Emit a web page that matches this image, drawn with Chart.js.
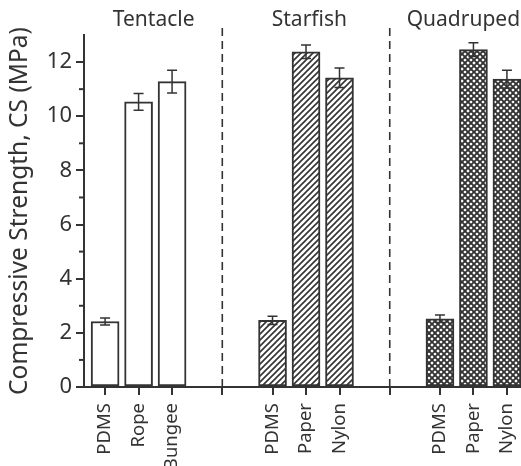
<!DOCTYPE html>
<html>
<head>
<meta charset="utf-8">
<title>Compressive Strength</title>
<script src="https://cdn.jsdelivr.net/npm/chart.js"></script>
<style>
body{margin:0;background:#fff}
</style>
</head>
<body>
<canvas id="csChart" width="521" height="466"></canvas>
<script>
// values
const groups=['Tentacle','Starfish','Quadruped'];
const tentacleLabels=['PDMS','Rope','Bungee'];
const starfishLabels=['PDMS','Paper','Nylon'];
const quadrupedLabels=['PDMS','Paper','Nylon'];
const tentacleCS=[2.42,10.53,11.28];
const tentacleErr=[0.13,0.31,0.42];
const starfishCS=[2.46,12.38,11.42];
const starfishErr=[0.15,0.25,0.36];
const quadrupedCS=[2.52,12.46,11.37];
const quadrupedErr=[0.14,0.25,0.33];
const tentacleX=[0,1,2];
const starfishX=[5,6,7];
const quadrupedX=[10,11,12];
const separatorX=[3.5,8.5];
const yTicks=[0,1,2,3,4,5,6,7,8,9,10,11,12];

const ink='#333';
const font='"Noto Sans", sans-serif';

function hatch(kind){
    const c=document.createElement('canvas');
    c.width=6;c.height=6;
    const g=c.getContext('2d');
    g.fillStyle='#fff';g.fillRect(0,0,6,6);
    g.strokeStyle=ink;g.lineWidth=kind==='cross'?1.9:1.6;
    g.beginPath();
    g.moveTo(-1,7);g.lineTo(7,-1);
    g.moveTo(-4,4);g.lineTo(4,-4);
    g.moveTo(2,10);g.lineTo(10,2);
    if(kind==='cross'){
        g.moveTo(-1,-1);g.lineTo(7,7);
        g.moveTo(-4,2);g.lineTo(4,10);
        g.moveTo(2,-4);g.lineTo(10,4);
    }
    g.stroke();
    return g.createPattern(c,'repeat');
}

const pts=(xs,ys)=>xs.map((x,i)=>({x:x,y:ys[i]}));
const xTicks=[...tentacleX,separatorX[0],...starfishX,separatorX[1],...quadrupedX];
const xTickLabels=[...tentacleLabels,'',...starfishLabels,'',...quadrupedLabels];

const barBase={type:'bar',grouped:false,barThickness:28,borderColor:ink,borderWidth:2,borderSkipped:false};
const sepBase={type:'line',borderColor:ink,borderWidth:1.6,borderDash:[8,5],pointRadius:0,clip:false};

const errorBars={
    id:'errorBars',
    afterDatasetsDraw(chart){
        const ctx=chart.ctx,y=chart.scales.y;
        ctx.save();
        ctx.strokeStyle=ink;ctx.lineWidth=1.5;
        chart.data.datasets.forEach((ds,di)=>{
            if(!ds.err)return;
            chart.getDatasetMeta(di).data.forEach((bar,i)=>{
                const v=ds.data[i].y,e=ds.err[i];
                const top=y.getPixelForValue(v+e),bot=y.getPixelForValue(v-e);
                ctx.beginPath();
                ctx.moveTo(bar.x,top);ctx.lineTo(bar.x,bot);
                ctx.moveTo(bar.x-5,top);ctx.lineTo(bar.x+5,top);
                ctx.moveTo(bar.x-5,bot);ctx.lineTo(bar.x+5,bot);
                ctx.stroke();
            });
        });
        ctx.restore();
    }
};

const extras={
    id:'extras',
    afterDraw(chart,args,opts){
        const ctx=chart.ctx,x=chart.scales.x,y=chart.scales.y;
        ctx.save();
        // minor y ticks
        ctx.strokeStyle=ink;ctx.lineWidth=2;
        yTicks.filter(v=>v%2).forEach(v=>{
            const p=y.getPixelForValue(v);
            ctx.beginPath();ctx.moveTo(chart.chartArea.left-5,p);ctx.lineTo(chart.chartArea.left,p);ctx.stroke();
        });
        // group titles
        ctx.fillStyle=ink;ctx.font='21px '+font;
        ctx.textAlign='center';ctx.textBaseline='middle';
        groups.forEach((g,i)=>ctx.fillText(g,x.getPixelForValue(opts.at[i]),opts.top));
        ctx.restore();
    }
};

new Chart(document.getElementById('csChart'),{
    data:{datasets:[
        {...barBase,label:'Tentacle',data:pts(tentacleX,tentacleCS),err:tentacleErr,backgroundColor:'#fff'},
        {...barBase,label:'Starfish',data:pts(starfishX,starfishCS),err:starfishErr,backgroundColor:hatch('diag')},
        {...barBase,label:'Quadruped',data:pts(quadrupedX,quadrupedCS),err:quadrupedErr,backgroundColor:hatch('cross')},
        {...sepBase,data:[{x:separatorX[0],y:0},{x:separatorX[0],y:13.4}]},
        {...sepBase,data:[{x:separatorX[1],y:0},{x:separatorX[1],y:13.4}]}
    ]},
    options:{
        responsive:false,
        animation:false,
        layout:{padding:{top:35,right:0,left:0,bottom:0}},
        plugins:{legend:{display:false},tooltip:{enabled:false},
            extras:{at:[1.45,6.1,10.7],top:20}},
        scales:{
            x:{type:'linear',min:-0.63,max:12.42,offset:false,
                grid:{offset:false,drawOnChartArea:false,color:ink,lineWidth:2,tickLength:8},
                border:{color:ink,width:2},
                afterBuildTicks:s=>{s.ticks=xTicks.map(v=>({value:v}));},
                afterFit:s=>{s.height=79;s.paddingLeft=0;s.paddingRight=0;},
                ticks:{color:ink,font:{family:font,size:18.5},minRotation:90,maxRotation:90,padding:8,
                    autoSkip:false,callback:(v,i)=>xTickLabels[i]}},
            y:{min:0,max:13,
                grid:{drawOnChartArea:false,lineWidth:2,tickLength:8,
                    tickColor:c=>c.tick&&c.tick.value%2?'rgba(0,0,0,0)':ink},
                border:{color:ink,width:2},
                afterBuildTicks:s=>{s.ticks=yTicks.map(v=>({value:v}));},
                afterFit:s=>{s.width=84;},
                title:{display:true,text:'Compressive Strength, CS (MPa)',color:ink,
                    font:{family:font,size:24.5},padding:{top:5,bottom:4}},
                ticks:{color:ink,font:{family:font,size:22},padding:4,
                    callback:v=>v%2?'':v}}
        }
    },
    plugins:[errorBars,extras]
});
</script>
</body>
</html>
